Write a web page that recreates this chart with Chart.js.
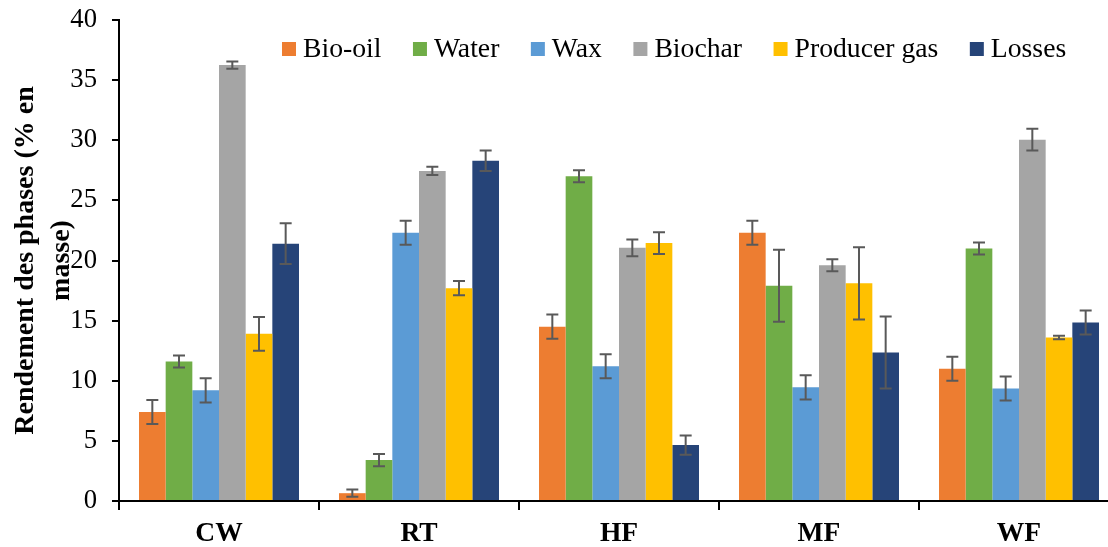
<!DOCTYPE html>
<html>
<head>
<meta charset="utf-8">
<script src="https://cdn.jsdelivr.net/npm/chart.js@4/dist/chart.umd.min.js"></script>
<style>
  html, body { margin: 0; padding: 0; background: #fff; overflow: hidden; }
  #wrap { width: 1130px; height: 547px; position: relative; }
</style>
</head>
<body>
<div id="wrap"><canvas id="phaseChart"></canvas></div>
<script>
// Catégories et séries (rendement en % massique)
const categories = ['CW', 'RT', 'HF', 'MF', 'WF'];
const seriesNames = ['Bio-oil', 'Water', 'Wax', 'Biochar', 'Producer gas', 'Losses'];
const seriesColors = ['#ED7D31', '#70AD47', '#5B9BD5', '#A5A5A5', '#FFC000', '#264478'];

const bioOil = [7.4, 0.65, 14.5, 22.3, 11.0];
const water = [11.6, 3.4, 27.0, 17.9, 21.0];
const wax = [9.2, 22.3, 11.2, 9.45, 9.35];
const biochar = [36.25, 27.45, 21.05, 19.6, 30.05];
const producerGas = [13.9, 17.7, 21.45, 18.1, 13.6];
const losses = [21.4, 28.3, 4.65, 12.35, 14.85];

// Écarts-types (barres d'erreur)
const bioOilErr = [1.0, 0.3, 1.0, 1.0, 1.0];
const waterErr = [0.5, 0.5, 0.5, 3.0, 0.5];
const waxErr = [1.0, 1.0, 1.0, 1.0, 1.0];
const biocharErr = [0.3, 0.35, 0.7, 0.5, 0.9];
const producerGasErr = [1.4, 0.6, 0.9, 3.0, 0.15];
const lossesErr = [1.7, 0.85, 0.8, 3.0, 1.0];

const yTicks = { min: 0, max: 40, step: 5 };

const values = [bioOil, water, wax, biochar, producerGas, losses];
const errors = [bioOilErr, waterErr, waxErr, biocharErr, producerGasErr, lossesErr];

const serif = "'Liberation Serif', 'Times New Roman', serif";

// Barres d'erreur dessinées depuis l'échelle y
const errorBars = {
  id: 'errorBars',
  afterDatasetsDraw(chart) {
    const c = chart.ctx;
    const y = chart.scales.y;
    c.save();
    c.strokeStyle = '#595959';
    c.lineWidth = 2;
    chart.data.datasets.forEach((ds, i) => {
      const meta = chart.getDatasetMeta(i);
      meta.data.forEach((bar, j) => {
        const v = ds.data[j], e = ds.errors[j];
        const top = y.getPixelForValue(v + e);
        const bot = y.getPixelForValue(v - e);
        const x = bar.x;
        c.beginPath();
        c.moveTo(x, top); c.lineTo(x, bot);
        c.moveTo(x - 6, top); c.lineTo(x + 6, top);
        c.moveTo(x - 6, bot); c.lineTo(x + 6, bot);
        c.stroke();
      });
    });
    c.restore();
  }
};

// Légende à l'intérieur de la zone du graphique
const insideLegend = {
  id: 'insideLegend',
  afterDraw(chart) {
    const c = chart.ctx;
    let x = chart.chartArea.left + 163;
    c.save();
    c.font = '27.7px ' + serif;
    c.textBaseline = 'alphabetic';
    c.textAlign = 'left';
    chart.data.datasets.forEach(ds => {
      c.fillStyle = ds.backgroundColor;
      c.fillRect(x, 42, 14, 14);
      c.fillStyle = '#000';
      c.fillText(ds.label, x + 21, 56.5);
      x += 21 + c.measureText(ds.label).width + 31.5;
    });
    c.restore();
  }
};

const ctx = document.getElementById('phaseChart').getContext('2d');
new Chart(ctx, {
  type: 'bar',
  data: {
    labels: categories,
    datasets: seriesNames.map((name, i) => ({
      label: name,
      data: values[i],
      errors: errors[i],
      backgroundColor: seriesColors[i],
      borderWidth: 0,
      categoryPercentage: 0.8,
      barPercentage: 1.0
    }))
  },
  options: {
    responsive: true,
    maintainAspectRatio: false,
    animation: false,
    layout: { padding: { top: 20, right: 11, bottom: 0, left: 0 } },
    plugins: {
      legend: { display: false },
      tooltip: { enabled: false }
    },
    scales: {
      x: {
        grid: { display: true, drawOnChartArea: false, color: '#000', lineWidth: 2, tickLength: 9 },
        border: { color: '#000', width: 2 },
        ticks: { color: '#000', font: { family: serif, size: 27.5, weight: 'bold' }, padding: 7 },
        afterFit(scale) { scale.height = 46; scale.paddingLeft = 0; scale.paddingRight = 0; }
      },
      y: {
        min: yTicks.min,
        max: yTicks.max,
        grid: { display: true, drawOnChartArea: false, color: '#000', lineWidth: 2, tickLength: 7 },
        border: { color: '#000', width: 2 },
        ticks: { stepSize: yTicks.step, color: '#000', font: { family: serif, size: 26.7 }, padding: 15 },
        title: {
          display: true,
          text: ['Rendement des phases (% en', 'masse)'],
          color: '#000',
          font: { family: serif, size: 28, weight: 'bold', lineHeight: 1.28 },
          padding: { top: 8, bottom: 0 }
        },
        afterFit(scale) { scale.width = 119; scale.paddingTop = 0; scale.paddingBottom = 0; }
      }
    }
  },
  plugins: [errorBars, insideLegend]
});
</script>
</body>
</html>
